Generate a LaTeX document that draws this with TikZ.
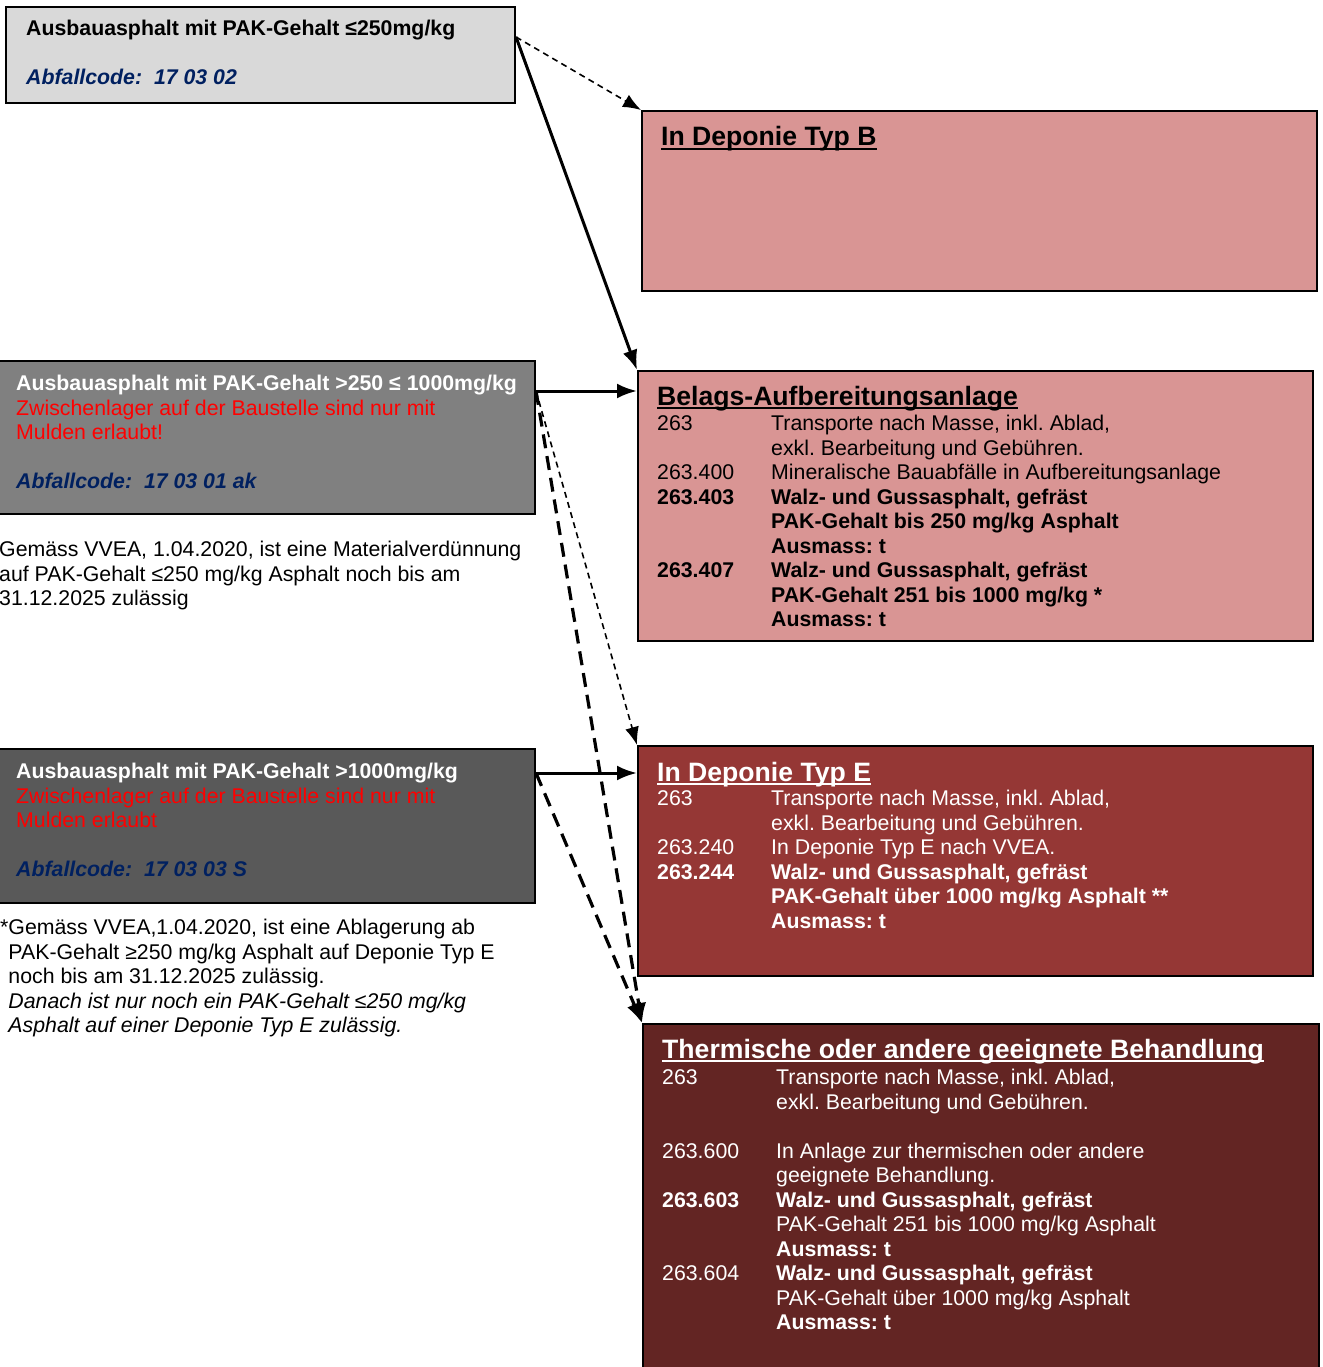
\documentclass[tikz,border=0pt]{standalone}
\usepackage{fontspec}
\setmainfont{Liberation Sans}
\frenchspacing
\usetikzlibrary{arrows.meta,calc}
\definecolor{lgray}{HTML}{D9D9D9}
\definecolor{mgray}{HTML}{808080}
\definecolor{dgray}{HTML}{595959}
\definecolor{pinkbox}{HTML}{D99594}
\definecolor{redbox}{HTML}{953735}
\definecolor{darkbox}{HTML}{632523}
\definecolor{codeblue}{HTML}{002060}
\begin{document}
\frenchspacing
\begin{tikzpicture}[x=1pt,y=-1pt,
  box/.style={draw=black, line width=2pt, inner sep=0pt, anchor=north west},
  txt/.style={inner sep=0pt, anchor=north west, font=\fontsize{21.3}{24.5}\selectfont},
  ttl/.style={inner sep=0pt, anchor=base west, font=\fontsize{26.6}{30}\selectfont\bfseries},
  uline/.style={line width=2.2pt},
  solidarr/.style={line width=3pt, -{Latex[length=20pt,width=15pt]}},
  thindash/.style={line width=1.6pt, dash pattern=on 6pt off 4.5pt, -{Latex[length=18pt,width=14pt]}},
  thickdash/.style={line width=3.2pt, dash pattern=on 14pt off 8pt, -{Latex[length=20pt,width=15pt]}}]
\useasboundingbox (0,0) rectangle (1322,1367);

% left boxes
\node[box, fill=lgray, minimum width=509pt, minimum height=96pt] (A) at (5,6) {};
\node[txt] (Atxt) at (26,18.5) {\begin{tabular}{@{}l@{}}\textbf{Ausbauasphalt mit PAK-Gehalt ≤250mg/kg}\\ \\ \textcolor{codeblue}{\bfseries\itshape Abfallcode:~ 17 03 02}\end{tabular}};

\node[box, fill=mgray, minimum width=544pt, minimum height=153pt] (M) at (-10,360) {};
\node[txt, text=white] (Mtxt) at (16,373.5) {\begin{tabular}{@{}l@{}}\textbf{Ausbauasphalt mit PAK-Gehalt >250 ≤ 1000mg/kg}\\ \textcolor{red}{Zwischenlager auf der Baustelle sind nur mit}\\ \textcolor{red}{Mulden erlaubt!}\\ \\ \textcolor{codeblue}{\bfseries\itshape Abfallcode:~ 17 03 01 ak}\end{tabular}};

\node[txt] (N1) at (-1,539.4) {\begin{tabular}{@{}l@{}}Gemäss VVEA, 1.04.2020, ist eine Materialverdünnung\\ auf PAK-Gehalt ≤250 mg/kg Asphalt noch bis am\\ 31.12.2025 zulässig\end{tabular}};

\node[box, fill=dgray, minimum width=544pt, minimum height=154pt] (Bt) at (-10,748) {};
\node[txt, text=white] (Bttxt) at (16,761.5) {\begin{tabular}{@{}l@{}}\textbf{Ausbauasphalt mit PAK-Gehalt >1000mg/kg}\\ \textcolor{red}{Zwischenlager auf der Baustelle sind nur mit}\\ \textcolor{red}{Mulden erlaubt}\\ \\ \textcolor{codeblue}{\bfseries\itshape Abfallcode:~ 17 03 03 S}\end{tabular}};

\node[txt] (N2) at (0,917.5) {\begin{tabular}{@{}l@{}}*Gemäss VVEA,1.04.2020, ist eine Ablagerung ab\\ \phantom{*}PAK-Gehalt ≥250 mg/kg Asphalt auf Deponie Typ E\\ \phantom{*}noch bis am 31.12.2025 zulässig.\\ \phantom{*}\itshape Danach ist nur noch ein PAK-Gehalt ≤250 mg/kg\\ \phantom{*}\itshape Asphalt auf einer Deponie Typ E zulässig.\end{tabular}};

% right boxes
\node[box, fill=pinkbox, minimum width=675pt, minimum height=180pt] (B) at (641,110) {};
\node[ttl] (tB) at (661,146) {In Deponie Typ B};
\draw[uline] ([yshift=-3pt]tB.base west) -- ([yshift=-3pt]tB.base east);

\node[box, fill=pinkbox, minimum width=675pt, minimum height=270pt] (L) at (637,370) {};
\node[ttl] (tL) at (657,405) {Belags-Aufbereitungsanlage};
\draw[uline] ([yshift=-3pt]tL.base west) -- ([yshift=-3pt]tL.base east);
\node[txt] (Ltxt) at (657,413.5) {\begin{tabular}{@{}p{114pt}@{}l@{}}
263 & Transporte nach Masse, inkl. Ablad,\\
 & exkl. Bearbeitung und Gebühren.\\
263.400 & Mineralische Bauabfälle in Aufbereitungsanlage\\
\textbf{263.403} & \textbf{Walz- und Gussasphalt, gefräst}\\
 & \textbf{PAK-Gehalt bis 250 mg/kg Asphalt}\\
 & \textbf{Ausmass: t}\\
\textbf{263.407} & \textbf{Walz- und Gussasphalt, gefräst}\\
 & \textbf{PAK-Gehalt 251 bis 1000 mg/kg *}\\
 & \textbf{Ausmass: t}
\end{tabular}};

\node[box, fill=redbox, minimum width=675pt, minimum height=230pt] (E) at (637,745) {};
\node[ttl, text=white] (tE) at (657,781) {In Deponie Typ E};
\draw[uline, white] ([yshift=-3pt]tE.base west) -- ([yshift=-3pt]tE.base east);
\node[txt, text=white] (Etxt) at (657,788.5) {\begin{tabular}{@{}p{114pt}@{}l@{}}
263 & Transporte nach Masse, inkl. Ablad,\\
 & exkl. Bearbeitung und Gebühren.\\
263.240 & In Deponie Typ E nach VVEA.\\
\textbf{263.244} & \textbf{Walz- und Gussasphalt, gefräst}\\
 & \textbf{PAK-Gehalt über 1000 mg/kg Asphalt **}\\
 & \textbf{Ausmass: t}
\end{tabular}};

\node[box, fill=darkbox, minimum width=676pt, minimum height=360pt] (Th) at (642,1023) {};
\node[ttl, text=white] (tTh) at (662,1058) {Thermische oder andere geeignete Behandlung};
\draw[uline, white] ([yshift=-3pt]tTh.base west) -- ([yshift=-3pt]tTh.base east);
\node[txt, text=white] (Thtxt) at (662,1067.5) {\begin{tabular}{@{}p{114pt}@{}l@{}}
263 & Transporte nach Masse, inkl. Ablad,\\
 & exkl. Bearbeitung und Gebühren.\\
 & \\
263.600 & In Anlage zur thermischen oder andere\\
 & geeignete Behandlung.\\
\textbf{263.603} & \textbf{Walz- und Gussasphalt, gefräst}\\
 & PAK-Gehalt 251 bis 1000 mg/kg Asphalt\\
 & \textbf{Ausmass: t}\\
263.604 & \textbf{Walz- und Gussasphalt, gefräst}\\
 & PAK-Gehalt über 1000 mg/kg Asphalt\\
 & \textbf{Ausmass: t}
\end{tabular}};

% connectors
\coordinate (aS) at ([yshift=-31pt]A.north east);
\draw[thindash] (aS) -- (B.north west);
\draw[solidarr] (aS) -- (L.north west);
\coordinate (mS) at ([yshift=-31pt]M.north east);
\draw[solidarr] (mS) -- (mS -| L.west);
\draw[thindash] (mS) -- (E.north west);
\draw[thickdash] (mS) -- (Th.north west);
\coordinate (bS) at ([yshift=-25pt]Bt.north east);
\draw[solidarr] (bS) -- (bS -| E.west);
\draw[thickdash] (bS) -- (Th.north west);
\end{tikzpicture}
\end{document}
